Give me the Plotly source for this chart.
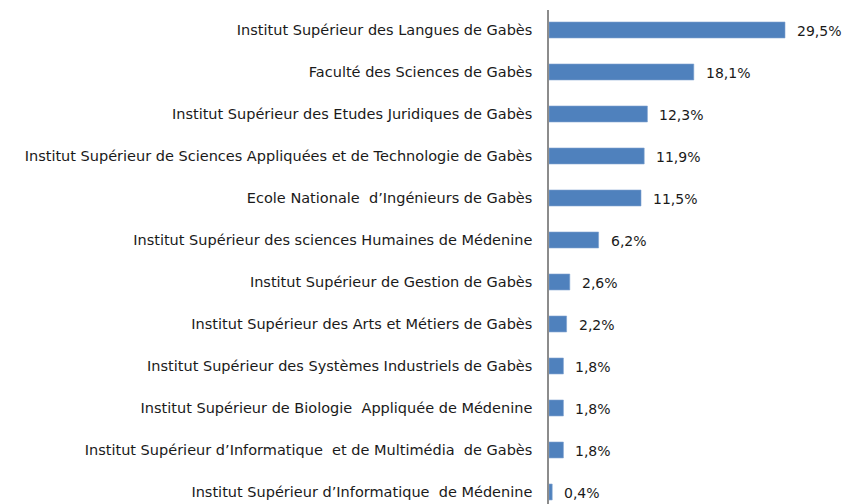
import plotly.graph_objects as go

categories = [
    "Institut Supérieur des Langues de Gabès",
    "Faculté des Sciences de Gabès",
    "Institut Supérieur des Etudes Juridiques de Gabès",
    "Institut Supérieur de Sciences Appliquées et de Technologie de Gabès",
    "Ecole Nationale  d’Ingénieurs de Gabès",
    "Institut Supérieur des sciences Humaines de Médenine",
    "Institut Supérieur de Gestion de Gabès",
    "Institut Supérieur des Arts et Métiers de Gabès",
    "Institut Supérieur des Systèmes Industriels de Gabès",
    "Institut Supérieur de Biologie  Appliquée de Médenine",
    "Institut Supérieur d’Informatique  et de Multimédia  de Gabès",
    "Institut Supérieur d’Informatique  de Médenine",
]
values = [29.5, 18.1, 12.3, 11.9, 11.5, 6.2, 2.6, 2.2, 1.8, 1.8, 1.8, 0.4]
value_labels = ["29,5%", "18,1%", "12,3%", "11,9%", "11,5%", "6,2%",
                "2,6%", "2,2%", "1,8%", "1,8%", "1,8%", "0,4%"]

ypos = list(range(len(categories)))

fig = go.Figure()
fig.add_trace(go.Bar(
    x=values,
    y=ypos,
    orientation="h",
    marker=dict(color="#4F81BD", line=dict(color="#7FA3D0", width=0.6)),
    width=0.38,
    hoverinfo="skip",
))

for v, yv, lab in zip(values, ypos, value_labels):
    fig.add_annotation(
        x=v, y=yv, text=lab, showarrow=False,
        xanchor="left", yanchor="middle", xshift=10, yshift=-1,
        font=dict(family="DejaVu Sans", size=14, color="#1a1a1a"),
    )

fig.update_layout(
    width=844, height=504,
    margin=dict(l=549, r=0, t=10, b=0, autoexpand=False),
    paper_bgcolor="white", plot_bgcolor="white",
    showlegend=False,
    font=dict(family="DejaVu Sans", size=14, color="#1a1a1a"),
)
fig.update_xaxes(
    range=[0, 36.875], showgrid=False, zeroline=False,
    showticklabels=False, showline=False, ticks="", automargin=False,
)
fig.update_yaxes(
    range=[11.286, -0.476],
    tickmode="array", tickvals=ypos, ticktext=categories,
    showgrid=False, zeroline=False, automargin=False,
    showline=True, linecolor="#8C8C8C", linewidth=1.5,
    ticks="", ticklabelstandoff=12,
    tickfont=dict(family="DejaVu Sans", size=14.5, color="#1a1a1a"),
)

fig.write_html(
    "out.html",
    config={"displayModeBar": False},
    post_script="document.body.style.margin='0';document.body.style.overflow='hidden';",
)
